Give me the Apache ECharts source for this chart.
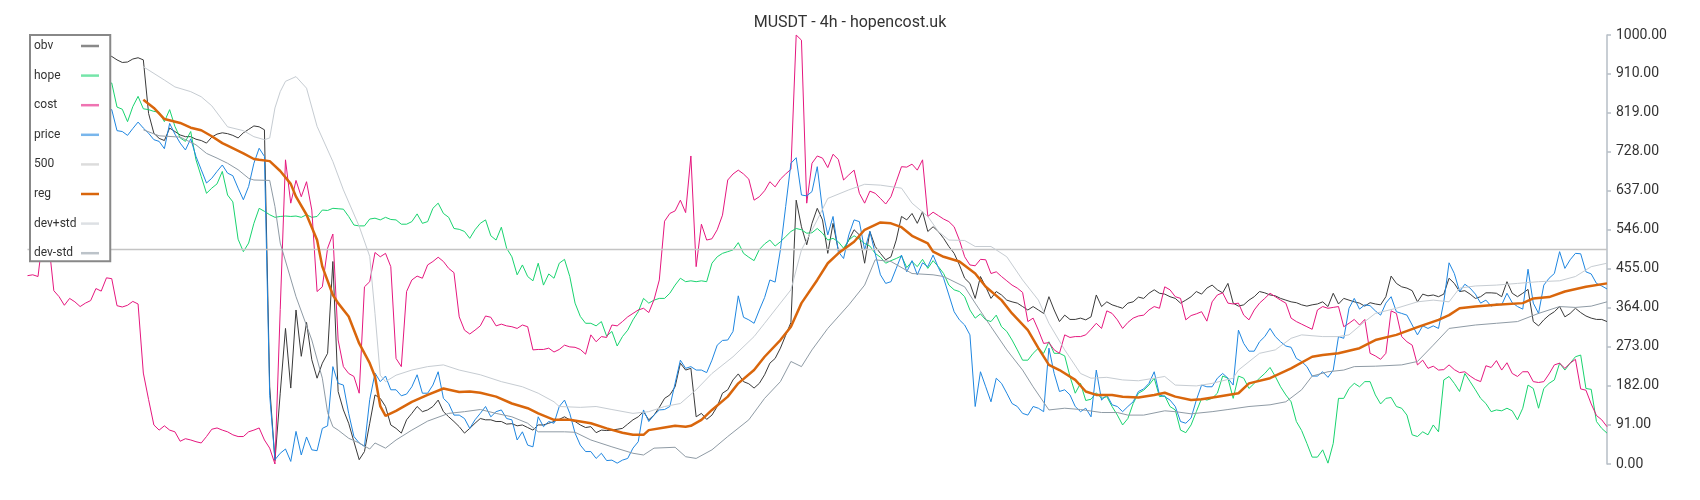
<!DOCTYPE html>
<html>
<head>
<meta charset="utf-8">
<title>MUSDT - 4h</title>
<script src="https://cdn.jsdelivr.net/npm/echarts@6/dist/echarts.min.js"></script>
<style>
  html, body { margin: 0; padding: 0; background: #fff; }
  #chart { width: 1700px; height: 500px; }
</style>
</head>
<body>
<div id="chart"></div>
<script>
// candle index runs 0..300 (4h bars)
const lastIndex = 300;

const costStart = 0;
const costVals = [
  439, 441, 437, 540, 520, 404, 390, 370, 386, 378,
  367, 375, 381, 409, 403, 434, 432, 369, 366, 370,
  379, 373, 212, 150, 91, 79, 89, 79, 75, 53,
  59, 56, 52, 49, 64, 81, 84, 79, 75, 68,
  64, 64, 75, 79, 84, 56, 37, 0, 360, 709,
  608, 661, 623, 658, 592, 402, 413, 503, 536, 289,
  227, 211, 204, 165, 413, 425, 493, 483, 491, 460,
  246, 227, 402, 429, 438, 433, 464, 472, 482, 472,
  456, 446, 343, 312, 303, 312, 322, 345, 342, 322,
  326, 322, 320, 316, 324, 320, 266, 267, 267, 270,
  261, 267, 277, 273, 272, 267, 256, 301, 285, 297,
  295, 324, 322, 332, 343, 351, 359, 363, 353, 383,
  429, 566, 584, 590, 615, 586, 718, 460, 559, 522,
  525, 546, 580, 662, 676, 685, 676, 664, 615, 623,
  637, 658, 646, 664, 676, 687, 1000, 988, 608, 701,
  718, 713, 691, 722, 710, 662, 674, 685, 631, 608,
  636, 631, 619, 606, 623, 658, 693, 692, 699, 685,
  709, 577, 587, 579, 571, 565, 553, 522, 483, 464,
  462, 477, 476, 444, 448, 437, 427, 417, 410, 400,
  332, 340, 312, 281, 283, 266, 258, 301, 295, 297,
  297, 301, 314, 328, 316, 357, 351, 336, 316, 330,
  340, 345, 347, 359, 367, 363, 413, 406, 390, 386,
  336, 346, 350, 355, 333, 378, 394, 399, 375, 373,
  375, 347, 336, 359, 375, 386, 398, 390, 382, 375,
  340, 332, 326, 320, 314, 359, 367, 363, 365, 367,
  320, 328, 337, 324, 337, 258, 252, 244, 258, 357,
  351, 297, 285, 277, 231, 242, 223, 228, 219, 220,
  231, 220, 213, 215, 205, 197, 192, 229, 225, 241,
  219, 236, 211, 204, 215, 215, 192, 190, 192, 210,
  231, 235, 223, 235, 244, 175, 172, 140, 113, 103, 87
];

const priceStart = 15;
const priceVals = [
  826, 826, 777, 775, 766,
  782, 797, 783, 771, 756, 752, 735, 794, 769, 748,
  732, 758, 717, 686, 655, 666, 682, 697, 678, 672,
  643, 616, 647, 701, 736, 717, 160, 10, 25, 35,
  6, 76, 21, 63, 33, 31, 83, 89, 227, 188,
  184, 118, 64, 49, 41, 150, 212, 192, 205, 173,
  173, 159, 163, 180, 208, 165, 165, 184, 215, 153,
  141, 114, 114, 106, 83, 103, 118, 134, 110, 122,
  126, 106, 103, 56, 75, 44, 40, 110, 87, 99,
  95, 134, 149, 118, 72, 44, 29, 29, 13, 25,
  8, 9, 2, 9, 13, 37, 52, 126, 99, 114,
  126, 127, 134, 188, 242, 223, 227, 219, 219, 213,
  242, 277, 288, 289, 309, 392, 342, 336, 328, 359,
  388, 429, 424, 499, 600, 701, 714, 627, 625, 635,
  693, 592, 534, 577, 495, 479, 534, 569, 565, 499,
  542, 491, 441, 421, 425, 456, 487, 448, 474, 441,
  469, 460, 487, 458, 433, 394, 355, 336, 324, 301,
  134, 215, 180, 145, 200, 188, 165, 141, 134, 118,
  114, 134, 130, 122, 270, 211, 169, 173, 161, 134,
  122, 130, 110, 219, 149, 161, 138, 134, 122, 134,
  145, 169, 175, 188, 215, 161, 157, 149, 134, 99,
  95, 107, 149, 184, 180, 180, 200, 211, 200, 184,
  312, 281, 263, 263, 285, 297, 316, 297, 285, 275,
  272, 246, 239, 227, 205, 205, 215, 202, 219, 297,
  293, 363, 386, 361, 371, 369, 357, 347, 375, 390,
  355, 351, 347, 324, 301, 322, 316, 322, 316, 378,
  469, 444, 402, 419, 410, 396, 375, 382, 368, 373,
  371, 398, 376, 367, 361, 454, 375, 351, 417, 433,
  444, 495, 456, 476, 491, 490, 448, 443, 421, 415, 408
];

const hopeStart = 15;
const hopeVals = [
  890, 888, 832, 827, 798,
  833, 857, 828, 826, 822, 820, 798, 826, 787, 760,
  752, 775, 709, 670, 631, 643, 653, 682, 627, 611,
  524, 495, 515, 561, 596, 589, 581, 575, 577, 578,
  577, 578, 575, 581, 575, 577, 592, 591, 596, 595,
  594, 577, 557, 555, 555, 571, 573, 569, 575, 570,
  569, 559, 559, 565, 583, 561, 565, 596, 608, 584,
  575, 549, 547, 542, 526, 546, 561, 569, 532, 522,
  552, 503, 483, 441, 464, 437, 427, 468, 417, 443,
  433, 468, 477, 437, 375, 344, 328, 328, 322, 332,
  298, 309, 275, 297, 312, 336, 355, 386, 375, 382,
  386, 386, 398, 417, 433, 425, 427, 425, 427, 425,
  468, 483, 491, 495, 499, 516, 491, 482, 474, 500,
  513, 522, 508, 518, 530, 542, 549, 546, 538, 539,
  549, 538, 522, 526, 518, 503, 522, 532, 524, 514,
  508, 491, 482, 468, 474, 479, 485, 458, 472, 460,
  477, 456, 474, 460, 444, 417, 406, 402, 390, 359,
  340, 350, 336, 332, 347, 320, 309, 289, 266, 242,
  242, 258, 270, 258, 285, 258, 258, 252, 204, 165,
  188, 148, 151, 166, 153, 157, 134, 114, 91, 106,
  141, 165, 172, 184, 200, 157, 159, 134, 126, 79,
  73, 91, 122, 153, 149, 153, 165, 205, 200, 153,
  205, 200, 176, 188, 200, 211, 225, 204, 180, 161,
  145, 99, 78, 48, 16, 16, 33, 2, 48, 153,
  153, 176, 188, 180, 192, 192, 161, 140, 153, 155,
  134, 130, 114, 68, 64, 75, 68, 91, 75, 196,
  204, 188, 169, 211, 192, 173, 153, 141, 122, 126,
  124, 130, 124, 103, 130, 184, 176, 130, 176, 188,
  196, 235, 219, 235, 250, 254, 176, 174, 99, 83, 72
];

const obvStart = 15;
const obvVals = [
  952, 950, 942, 936, 937,
  944, 947, 942, 817, 771, 759, 754, 783, 775, 767,
  763, 763, 757, 754, 748, 762, 769, 772, 770, 766,
  760, 772, 780, 788, 786, 779, 180, 8, 165, 316,
  177, 359, 251, 330, 243, 200, 235, 258, 472, 169,
  126, 95, 52, 10, 29, 95, 161, 153, 134, 91,
  83, 72, 103, 118, 134, 122, 126, 134, 149, 122,
  110, 99, 87, 72, 83, 95, 106, 103, 103, 99,
  99, 93, 94, 89, 91, 85, 79, 91, 91, 95,
  99, 104, 110, 103, 99, 91, 85, 87, 73, 79,
  78, 79, 81, 83, 93, 103, 110, 122, 103, 114,
  132, 153, 161, 180, 235, 219, 223, 110, 118, 104,
  114, 134, 165, 173, 196, 210, 192, 187, 177, 188,
  208, 235, 246, 270, 300, 330, 615, 553, 511, 561,
  596, 569, 491, 561, 499, 499, 522, 546, 534, 468,
  542, 507, 491, 476, 483, 522, 577, 569, 584, 561,
  588, 542, 553, 542, 526, 507, 491, 464, 433, 421,
  386, 437, 413, 386, 402, 394, 382, 378, 375, 367,
  359, 367, 359, 351, 390, 359, 332, 347, 337, 337,
  340, 336, 343, 394, 367, 378, 371, 367, 363, 375,
  378, 389, 386, 398, 406, 398, 396, 390, 386, 375,
  382, 390, 402, 396, 410, 417, 406, 399, 421, 375,
  368, 371, 382, 390, 402, 399, 394, 392, 386, 382,
  378, 376, 371, 368, 371, 373, 378, 367, 398, 373,
  386, 382, 378, 375, 368, 376, 373, 371, 390, 438,
  421, 413, 410, 404, 378, 396, 392, 394, 390, 396,
  433, 421, 402, 404, 396, 386, 390, 399, 399, 398,
  390, 425, 398, 390, 398, 407, 332, 322, 336, 347,
  355, 367, 343, 351, 363, 353, 345, 340, 337, 337, 332
];

const levelValue = 500;

const regPts = [
  [22, 849], [24, 830], [26, 804], [29, 795], [31, 784], [33, 778], [35, 764], [37, 748],
  [38, 742], [41, 724], [43, 711], [44, 709], [46, 706], [48, 683], [50, 653], [51, 623],
  [53, 581], [55, 522], [56, 460], [58, 394], [59, 375], [61, 344], [63, 281], [65, 235],
  [66, 204], [67, 135], [68, 112], [70, 124], [73, 145], [76, 161], [79, 176], [82, 168],
  [84, 169], [86, 166], [89, 157], [92, 141], [95, 130], [97, 118], [100, 103], [103, 103],
  [107, 95], [110, 83], [113, 73], [115, 68], [117, 68], [118, 79], [121, 85], [123, 89],
  [125, 87], [126, 89], [128, 103], [130, 126], [133, 157], [135, 188], [138, 219], [140, 250],
  [143, 289], [145, 320], [147, 375], [150, 429], [152, 468], [154, 491], [157, 518], [159, 546],
  [162, 563], [164, 561], [166, 552], [168, 532], [171, 514], [172, 495], [174, 483], [177, 472],
  [180, 444], [182, 413], [185, 382], [187, 351], [190, 312], [192, 270], [194, 231], [196, 219],
  [199, 196], [201, 169], [203, 161], [206, 161], [208, 157], [211, 155], [214, 161], [216, 166],
  [218, 157], [221, 149], [223, 151], [226, 157], [230, 165], [232, 188], [236, 200], [240, 223],
  [244, 250], [246, 254], [249, 258], [253, 270], [256, 289], [260, 301], [264, 319], [268, 336],
  [270, 347], [272, 363], [275, 367], [279, 371], [284, 375], [286, 386], [289, 389], [292, 402],
  [296, 413], [300, 421]
];

const devUpPts = [
  [22, 926], [26, 895], [28, 879], [31, 868], [33, 856], [35, 835], [38, 786], [41, 777],
  [43, 763], [45, 756], [46, 760], [47, 830], [48, 868], [49, 892], [51, 903], [53, 876],
  [55, 787], [58, 705], [60, 639], [63, 554], [65, 484], [66, 351], [67, 207], [68, 192],
  [70, 207], [73, 219], [76, 227], [79, 231], [82, 219], [86, 208], [90, 192], [94, 180],
  [97, 165], [100, 145], [101, 134], [105, 132], [108, 134], [111, 127], [115, 118], [118, 122],
  [121, 134], [124, 141], [127, 173], [130, 211], [134, 250], [138, 297], [140, 328], [143, 375],
  [145, 406], [147, 499], [150, 569], [152, 619], [156, 639], [159, 652], [162, 650], [166, 643],
  [168, 608], [171, 577], [173, 542], [175, 522], [178, 521], [180, 507], [183, 507], [186, 483],
  [189, 429], [192, 382], [194, 328], [197, 266], [200, 211], [202, 200], [205, 202], [208, 196],
  [211, 194], [214, 200], [216, 204], [218, 184], [222, 182], [225, 188], [229, 200], [230, 219],
  [234, 258], [237, 266], [240, 293], [242, 301], [246, 297], [249, 297], [251, 301], [254, 332],
  [256, 351], [260, 363], [264, 378], [267, 382], [270, 378], [272, 410], [275, 415], [279, 417],
  [283, 421], [287, 425], [291, 427], [294, 437], [297, 460], [300, 468]
];

const devDnPts = [
  [22, 779], [25, 765], [29, 762], [32, 744], [34, 724], [36, 713], [38, 701], [40, 686],
  [42, 666], [43, 662], [46, 661], [47, 600], [48, 515], [51, 390], [54, 289], [56, 200],
  [57, 120], [58, 87], [59, 79], [61, 60], [63, 49], [65, 35], [66, 49], [68, 37],
  [70, 56], [73, 79], [76, 100], [80, 118], [83, 122], [86, 127], [89, 118], [92, 110],
  [95, 95], [97, 75], [102, 75], [104, 74], [107, 56], [111, 40], [115, 25], [117, 21],
  [119, 37], [123, 39], [125, 17], [127, 13], [130, 33], [133, 64], [137, 103], [140, 153],
  [143, 192], [145, 239], [147, 227], [149, 266], [152, 316], [156, 371], [159, 417], [161, 476],
  [164, 472], [168, 444], [172, 441], [174, 437], [178, 413], [180, 375], [183, 320], [186, 266],
  [189, 219], [191, 180], [194, 126], [197, 130], [200, 127], [204, 120], [207, 120], [209, 114],
  [212, 114], [216, 124], [218, 122], [221, 117], [225, 122], [228, 127], [232, 134], [236, 138],
  [239, 145], [242, 173], [244, 205], [247, 215], [250, 219], [252, 227], [256, 228], [261, 231],
  [264, 239], [267, 277], [270, 316], [275, 324], [279, 328], [283, 332], [287, 351], [291, 367],
  [294, 365], [297, 368], [300, 378]
];

function toPairs(start, vals) {
  return vals.map((v, k) => [start + k, v]);
}

const chart = echarts.init(document.getElementById('chart'));

function lineSeries(name, data, color, width) {
  return {
    name: name,
    type: 'line',
    data: data,
    symbol: 'none',
    showSymbol: false,
    lineStyle: { color: color, width: width },
    itemStyle: { color: color },
    emphasis: { disabled: true }
  };
}

const legendNames = ['obv', 'hope', 'cost', 'price', '500', 'reg', 'dev+std', 'dev-std'];

const option = {
  animation: false,
  backgroundColor: '#fff',
  textStyle: { fontFamily: 'Roboto, sans-serif' },
  title: {
    text: 'MUSDT - 4h - hopencost.uk',
    left: 'center',
    top: 10,
    textStyle: { fontSize: 16, fontWeight: 'normal', color: '#333' }
  },
  legend: {
    orient: 'vertical',
    left: 30,
    top: 35,
    align: 'right',
    itemWidth: 18,
    itemHeight: 14,
    itemGap: 17.6,
    padding: [5, 10, 2, 4],
    borderColor: '#888',
    borderWidth: 2,
    backgroundColor: '#fff',
    itemStyle: { opacity: 0 },
    lineStyle: { width: 2.5, opacity: 0.6 },
    // text left-aligned in a fixed box so every icon ends at the same x
    formatter: name => '{t|' + name + '}',
    textStyle: {
      fontSize: 12,
      color: '#333',
      rich: { t: { width: 42, align: 'left', fontSize: 12, color: '#333' } }
    },
    data: legendNames.map(n => n === 'reg'
      ? { name: n, lineStyle: { opacity: 1 } }
      : n)
  },
  grid: { left: 27.5, right: 93, top: 35, bottom: 36 },
  xAxis: { type: 'value', min: 0, max: lastIndex, show: false },
  yAxis: {
    type: 'value',
    position: 'right',
    min: 0,
    max: 1000,
    interval: 91,
    axisLine: { show: true, onZero: false, lineStyle: { color: '#b6bec6', width: 1.5 } },
    axisTick: { show: true, length: 4, lineStyle: { color: '#b6bec6', width: 1.5 } },
    axisLabel: { color: '#333', fontSize: 14, margin: 9, formatter: v => v.toFixed(2) },
    splitLine: { show: false }
  },
  series: [
    lineSeries('obv', toPairs(obvStart, obvVals), '#3a3a3a', 1),
    lineSeries('hope', toPairs(hopeStart, hopeVals), '#19d36f', 1),
    lineSeries('cost', toPairs(costStart, costVals), '#e5177e', 1),
    lineSeries('price', toPairs(priceStart, priceVals), '#1f86e0', 1),
    lineSeries('500', [[0, levelValue], [lastIndex, levelValue]], '#c4c4c4', 1.5),
    lineSeries('reg', regPts, '#d9660c', 2.5),
    lineSeries('dev+std', devUpPts, '#c6ccd2', 1),
    lineSeries('dev-std', devDnPts, '#8f9ba5', 1)
  ]
};

chart.setOption(option);
</script>
</body>
</html>
